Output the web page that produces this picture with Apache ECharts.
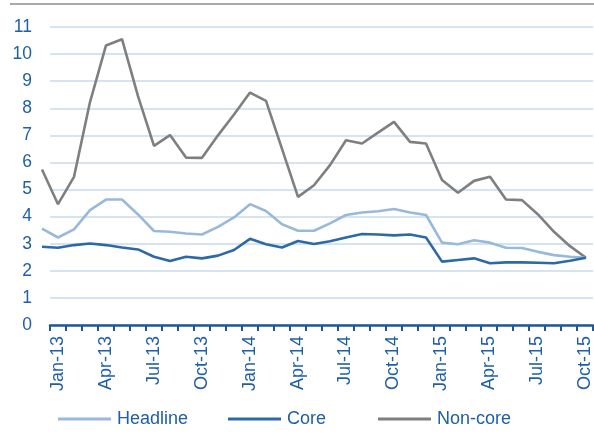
<!DOCTYPE html>
<html>
<head>
<meta charset="utf-8">
<script src="https://cdn.jsdelivr.net/npm/echarts@6/dist/echarts.min.js"></script>
<style>
  html, body { margin: 0; padding: 0; background: #ffffff; }
  #chart { width: 594px; height: 437px; }
</style>
</head>
<body>
<div id="chart"></div>
<script>
// Monthly observations, Dec-12 to Oct-15
const months = [
  'Dec-12',
  'Jan-13','Feb-13','Mar-13','Apr-13','May-13','Jun-13','Jul-13','Aug-13','Sep-13','Oct-13','Nov-13','Dec-13',
  'Jan-14','Feb-14','Mar-14','Apr-14','May-14','Jun-14','Jul-14','Aug-14','Sep-14','Oct-14','Nov-14','Dec-14',
  'Jan-15','Feb-15','Mar-15','Apr-15','May-15','Jun-15','Jul-15','Aug-15','Sep-15','Oct-15'
];

// Months shown along the axis (labelled every third month)
const axisMonths = months.slice(1);

const headline = [
  3.56, 3.23, 3.53, 4.24, 4.63, 4.63, 4.08, 3.47, 3.44, 3.38, 3.34, 3.62, 3.97,
  4.46, 4.21, 3.72, 3.48, 3.48, 3.75, 4.06, 4.15, 4.20, 4.28, 4.15, 4.06,
  3.04, 2.98, 3.13, 3.04, 2.85, 2.84, 2.70, 2.58, 2.52, 2.48
];

const core = [
  2.89, 2.85, 2.95, 3.01, 2.95, 2.86, 2.79, 2.52, 2.36, 2.52, 2.46, 2.56, 2.77,
  3.18, 2.98, 2.86, 3.10, 2.99, 3.09, 3.23, 3.36, 3.34, 3.31, 3.34, 3.23,
  2.34, 2.40, 2.46, 2.28, 2.31, 2.31, 2.30, 2.28, 2.37, 2.48
];

const nonCore = [
  5.74, 4.46, 5.47, 8.23, 10.32, 10.55, 8.45, 6.61, 7.01, 6.18, 6.17, 7.00, 7.77,
  8.58, 8.27, 6.50, 4.73, 5.16, 5.90, 6.82, 6.70, 7.10, 7.50, 6.76, 6.70,
  5.35, 4.88, 5.32, 5.47, 4.63, 4.61, 4.08, 3.44, 2.91, 2.48
];

const yTicks = { min: 0, max: 11, step: 1 };

const BLUE_TEXT = '#1F5FA6';
const AXIS_BLUE = '#1F5896';
const GRID_BLUE = '#C9DAEC';
const C_HEADLINE = '#98B9DA';
const C_CORE = '#2D69A6';
const C_NONCORE = '#7F7F7F';
const FONT = '"Liberation Sans", Arial, sans-serif';

const chart = echarts.init(document.getElementById('chart'), null, { renderer: 'canvas' });

function legendFor(name, color, left) {
  return {
    show: true,
    left: left,
    top: 410,
    padding: 0,
    itemWidth: 53,
    itemHeight: 3,
    itemGap: 0,
    textStyle: { color: BLUE_TEXT, fontSize: 18, fontFamily: FONT, padding: [0, 0, 0, 1] },
    data: [{ name: name, icon: 'rect', itemStyle: { color: color } }]
  };
}

chart.setOption({
  animation: false,
  backgroundColor: '#ffffff',
  textStyle: { fontFamily: FONT },
  graphic: [{
    type: 'line',
    shape: { x1: 10, y1: 4, x2: 594, y2: 4 },
    style: { stroke: '#A9A9A9', lineWidth: 2 }
  }],
  legend: [
    legendFor('Headline', C_HEADLINE, 58),
    legendFor('Core', C_CORE, 228),
    legendFor('Non-core', C_NONCORE, 378)
  ],
  grid: [
    // data grid: includes the Dec-12 slot to the left of the drawn axis
    { left: 34, top: 27, width: 562, height: 298 },
    // axis grid: Jan-13 onwards
    { left: 50, top: 27, width: 546, height: 298 }
  ],
  xAxis: [
    {
      type: 'category', gridIndex: 0, data: months, boundaryGap: true,
      axisLine: { show: false }, axisTick: { show: false }, axisLabel: { show: false },
      splitLine: { show: false }
    },
    {
      type: 'category', gridIndex: 1, data: axisMonths, boundaryGap: true,
      axisLine: { show: true, onZero: false, lineStyle: { color: AXIS_BLUE, width: 2.5 } },
      axisTick: { show: true, interval: 0, length: 6, lineStyle: { color: AXIS_BLUE, width: 2 } },
      axisLabel: {
        show: true, interval: 2, rotate: 90, margin: 11,
        color: BLUE_TEXT, fontSize: 18, fontFamily: FONT
      },
      splitLine: { show: false }
    }
  ],
  yAxis: [
    {
      type: 'value', gridIndex: 0, min: yTicks.min, max: yTicks.max, interval: yTicks.step,
      show: false, splitLine: { show: false }
    },
    {
      type: 'value', gridIndex: 1, min: yTicks.min, max: yTicks.max, interval: yTicks.step,
      axisLine: { show: false }, axisTick: { show: false },
      axisLabel: { color: BLUE_TEXT, fontSize: 17.5, fontFamily: FONT, margin: 18 },
      splitLine: { show: true, lineStyle: { color: GRID_BLUE, width: 1.5 } }
    }
  ],
  series: [
    {
      name: 'Headline', type: 'line', xAxisIndex: 0, yAxisIndex: 0,
      data: headline, symbol: 'none', z: 3,
      lineStyle: { color: C_HEADLINE, width: 2.6 }, itemStyle: { color: C_HEADLINE }
    },
    {
      name: 'Core', type: 'line', xAxisIndex: 0, yAxisIndex: 0,
      data: core, symbol: 'none', z: 4,
      lineStyle: { color: C_CORE, width: 2.6 }, itemStyle: { color: C_CORE }
    },
    {
      name: 'Non-core', type: 'line', xAxisIndex: 0, yAxisIndex: 0,
      data: nonCore, symbol: 'none', z: 2,
      lineStyle: { color: C_NONCORE, width: 2.6 }, itemStyle: { color: C_NONCORE }
    }
  ]
});
</script>
</body>
</html>
